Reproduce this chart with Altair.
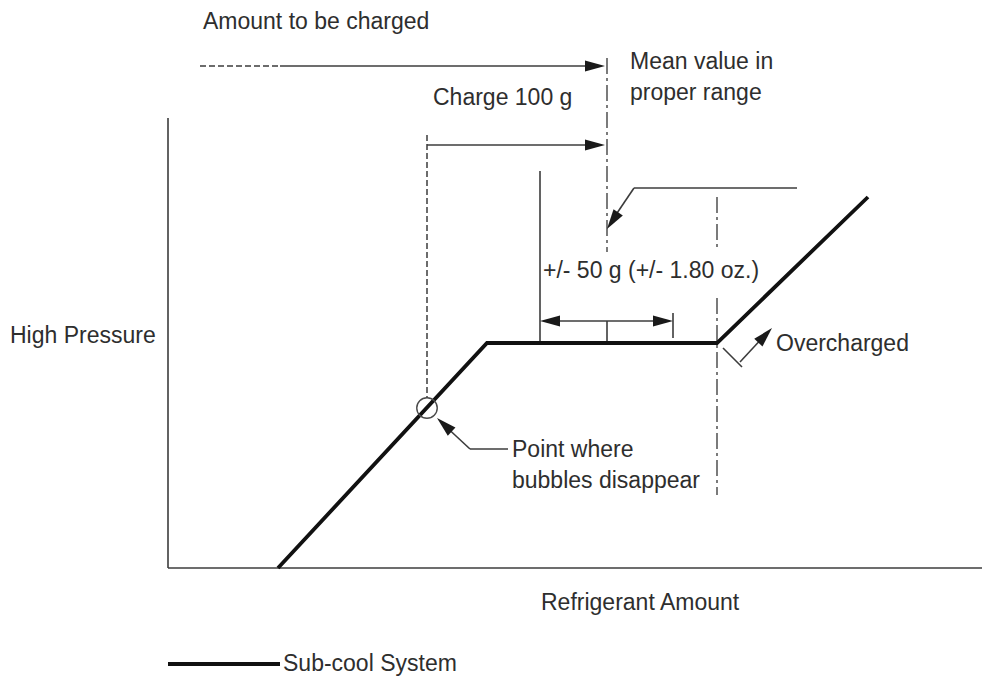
import altair as alt
import pandas as pd

# ---- diagram data (in picture units: x = refrigerant amount, y = pressure, y grows downward) ----
curve_x = [278, 487, 717, 868]
curve_y = [568, 343, 343, 197]

# thin solid segments: x, y, x2, y2
solid_x1 = [168, 168, 280, 427, 540, 797, 634, 547, 673, 607, 723, 740, 508, 470]
solid_y1 = [118, 568, 66, 145, 171, 188, 188, 321, 313, 321, 348, 362, 449, 449]
solid_x2 = [168, 990, 598, 598, 540, 634, 611, 666, 673, 607, 742, 766, 470, 442]
solid_y2 = [568, 568, 66, 145, 343, 188, 222, 321, 338, 343, 367, 334, 449, 423]

# dashed segments
dash_x1 = [200, 427]
dash_y1 = [66, 135]
dash_x2 = [280, 427]
dash_y2 = [66, 398]

# dash-dot (centre) lines
cl_x1 = [607, 717, 717]
cl_y1 = [58, 197, 298]
cl_x2 = [607, 717, 717]
cl_y2 = [252, 247, 495]

# arrow heads: tip position and direction (degrees, clockwise from pointing right)
head_x = [605, 605, 607, 540, 673, 772, 437]
head_y = [66, 145, 229, 321, 321, 328, 418]
head_angle = [0, 0, 124, 180, 0, 313, 223]

# bubble circle
circ_x = [427]
circ_y = [408]

# legend line
leg_x = [168, 280]
leg_y = [664, 664]

# labels
label_text = ["Amount to be charged", "Mean value in", "proper range", "Charge 100 g",
              "+/- 50 g (+/- 1.80 oz.)", "High Pressure", "Overcharged", "Point where",
              "bubbles disappear", "Refrigerant Amount", "Sub-cool System"]
label_x = [203, 630, 630, 433, 543, 10, 776, 512, 512, 541, 283]
label_y = [22, 62, 93, 98, 271, 336, 344, 450, 481, 603, 664]

# ---- build ----
xs = alt.Scale(domain=[8, 982], nice=False, zero=False)
ys = alt.Scale(domain=[8, 680], nice=False, zero=False, reverse=True)

def X(f="x"):
    return alt.X(f"{f}:Q", scale=xs, axis=None)

def Y(f="y"):
    return alt.Y(f"{f}:Q", scale=ys, axis=None)

seg = lambda a, b, c, d: pd.DataFrame({"x": a, "y": b, "x2": c, "y2": d})

GRAY = "#3c3c3c"
TXT = "#2e2e2e"

solid = alt.Chart(seg(solid_x1, solid_y1, solid_x2, solid_y2)).mark_rule(
    color=GRAY, strokeWidth=1.6).encode(x=X(), y=Y(), x2="x2:Q", y2="y2:Q")

dashed = alt.Chart(seg(dash_x1, dash_y1, dash_x2, dash_y2)).mark_rule(
    color=GRAY, strokeWidth=1.5, strokeDash=[6, 3]).encode(x=X(), y=Y(), x2="x2:Q", y2="y2:Q")

center = alt.Chart(seg(cl_x1, cl_y1, cl_x2, cl_y2)).mark_rule(
    color="#5a5a5a", strokeWidth=1.6, strokeDash=[16, 4, 3, 4]).encode(x=X(), y=Y(), x2="x2:Q", y2="y2:Q")

curve = alt.Chart(pd.DataFrame({"x": curve_x, "y": curve_y, "o": range(len(curve_x))})).mark_line(
    color="#111111", strokeWidth=3.8, strokeJoin="miter").encode(x=X(), y=Y(), order="o:Q")

legend = alt.Chart(pd.DataFrame({"x": leg_x, "y": leg_y})).mark_line(
    color="#111111", strokeWidth=3.8).encode(x=X(), y=Y())

circle = alt.Chart(pd.DataFrame({"x": circ_x, "y": circ_y})).mark_point(
    shape="circle", size=420, filled=False, color="#4a4a4a", strokeWidth=1.4, opacity=1).encode(x=X(), y=Y())

heads = alt.Chart(pd.DataFrame({"x": head_x, "y": head_y, "a": head_angle})).mark_point(
    shape="M0,0L-1,-0.28L-1,0.28Z", size=1600, filled=True, color="#1a1a1a", opacity=1, strokeWidth=0
).encode(x=X(), y=Y(), angle=alt.Angle("a:Q", scale=None))

labels = alt.Chart(pd.DataFrame({"x": label_x, "y": label_y, "t": label_text})).mark_text(
    align="left", baseline="middle", font="Liberation Sans", fontSize=23, color=TXT
).encode(x=X(), y=Y(), text="t:N")

chart = alt.layer(solid, dashed, center, curve, legend, circle, heads, labels).properties(
    width=974, height=672, autosize=alt.AutoSizeParams(type="none"), padding=0
).configure_view(stroke=None)

chart.save("out.html", embed_options={"renderer": "svg", "actions": False})
